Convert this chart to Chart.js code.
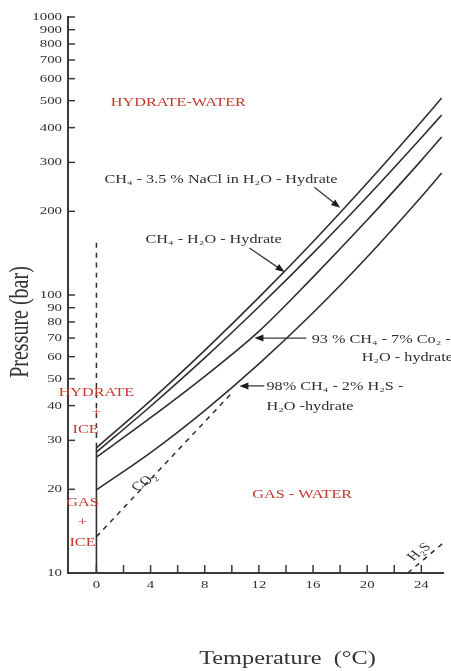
<!DOCTYPE html>
<html>
<head>
<meta charset="utf-8">
<script src="https://cdn.jsdelivr.net/npm/chart.js@4.4.1/dist/chart.umd.min.js"></script>
<style>
  html, body { margin: 0; padding: 0; background: #fff; }
  #wrap { width: 451px; height: 671px; }
</style>
</head>
<body>
<div id="wrap"><canvas id="chart" width="451" height="671"></canvas></div>
<script>
// --- Data ---
const temps = [0, 4, 8, 12, 16, 20, 24, 25.5];
const naclHydrate = [28.2, 41.7, 63.2, 98.0, 155.5, 252.9, 420.2, 511];
const ch4Hydrate = [27.2, 39.8, 59.4, 90.7, 141.4, 225.6, 367.8, 444];
const co2MixHydrate = [26.1, 36.2, 51.0, 74.0, 116, 186, 305, 370];
const h2sMixHydrate = [19.9, 27.1, 38.4, 56.5, 86.3, 137, 225.7, 274.8];

const co2Temps = [0, 5, 10];
const co2Line = [13.5, 24.5, 44.4];
const h2sTemps = [23.0, 25.6];
const h2sLine = [10, 12.8];

const iceTemps = [0, 0];
const iceSolid = [10, 28.2];
const iceDashed = [28.2, 160];

const xTicks = [0, 2, 4, 6, 8, 10, 12, 14, 16, 18, 20, 22, 24];
const xLabels = [0, 4, 8, 12, 16, 20, 24];
const yTicks = [10, 20, 30, 40, 50, 60, 70, 80, 90, 100, 200, 300, 400, 500, 600, 700, 800, 900, 1000];

// --- Style ---
const ink = '#2e2e2e';
const red = '#c0392b';
const SX = 1.35; // the original figure is stretched sideways
const serif = '"Liberation Serif", "DejaVu Serif", serif';

const pts = (xs, ys) => xs.map((t, i) => ({ x: t, y: ys[i] }));
const solid = (data) => ({ data, borderColor: ink, borderWidth: 1.6, pointRadius: 0, fill: false, cubicInterpolationMode: 'monotone' });
const dashed = (data) => ({ ...solid(data), borderDash: [5, 5], borderWidth: 1.5 });

// annotation text, placed in data coords
const notes = [
  { text: 'HYDRATE-WATER', t: 6.05, p: 490, color: red, align: 'center' },
  { text: 'CH\u2084 - 3.5 % NaCl in H\u2082O - Hydrate', t: 0.59, p: 259 },
  { text: 'CH\u2084 - H\u2082O - Hydrate', t: 3.62, p: 158 },
  { text: '93 % CH\u2084 - 7% Co\u2082 -', t: 15.9, p: 68.9 },
  { text: 'H\u2082O - hydrate', t: 19.6, p: 59.3 },
  { text: '98% CH\u2084 - 2% H\u2082S -', t: 12.56, p: 46.7 },
  { text: 'H\u2082O -hydrate', t: 12.56, p: 39.5 },
  { text: 'HYDRATE', t: 0, p: 44.4, color: red, align: 'center' },
  { text: '+', t: 0, p: 37.6, color: red, align: 'center' },
  { text: 'ICE', t: -0.8, p: 32.7, color: red, align: 'center' },
  { text: 'GAS', t: -1.03, p: 17.9, color: red, align: 'center' },
  { text: '+', t: -1.03, p: 15.1, color: red, align: 'center' },
  { text: 'ICE', t: -1.03, p: 12.8, color: red, align: 'center' },
  { text: 'GAS - WATER', t: 15.2, p: 19.1, color: red, align: 'center' },
  { text: 'CO\u2082', t: 3.55, p: 21.2, align: 'center', rotate: -0.75 },
  { text: 'H\u2082S', t: 23.85, p: 11.9, align: 'center', rotate: -0.8 }
];

const arrows = [
  { from: [16.1, 244], to: [18.0, 206] },
  { from: [11.3, 147.6], to: [13.9, 121] },
  { from: [15.5, 70], to: [11.67, 70] },
  { from: [12.4, 47.1], to: [10.56, 47.1] }
];

function drawText(ctx, text, x, y, o = {}) {
  ctx.save();
  ctx.translate(x, y);
  ctx.scale(SX, 1);
  if (o.rotate) ctx.rotate(o.rotate);
  ctx.font = `${o.size || 12}px ${serif}`;
  ctx.fillStyle = o.color || ink;
  ctx.textAlign = o.align || 'left';
  ctx.textBaseline = 'middle';
  ctx.fillText(text, 0, 0);
  ctx.restore();
}

const overlay = {
  id: 'overlay',
  afterDraw(chart) {
    const { ctx, chartArea: a, scales: { x, y } } = chart;
    ctx.save();
    ctx.strokeStyle = '#3a3a3a';
    ctx.lineWidth = 1.5;
    // inward tick marks
    x.ticks.forEach(t => {
      const px = x.getPixelForValue(t.value);
      ctx.beginPath(); ctx.moveTo(px, a.bottom); ctx.lineTo(px, a.bottom - 8); ctx.stroke();
      if (xLabels.includes(t.value)) drawText(ctx, String(t.value), px, a.bottom + 12, { size: 11, align: 'center' });
    });
    y.ticks.forEach(t => {
      const py = y.getPixelForValue(t.value);
      ctx.beginPath(); ctx.moveTo(a.left, py); ctx.lineTo(a.left + 7, py); ctx.stroke();
      drawText(ctx, String(t.value), a.left - 6, py, { size: 11, align: 'right' });
    });

    // arrows
    ctx.fillStyle = '#1e1e1e';
    ctx.lineWidth = 1.3;
    arrows.forEach(ar => {
      const x0 = x.getPixelForValue(ar.from[0]), y0 = y.getPixelForValue(ar.from[1]);
      const x1 = x.getPixelForValue(ar.to[0]), y1 = y.getPixelForValue(ar.to[1]);
      const ang = Math.atan2(y1 - y0, x1 - x0);
      ctx.beginPath(); ctx.moveTo(x0, y0); ctx.lineTo(x1 - 6 * Math.cos(ang), y1 - 6 * Math.sin(ang)); ctx.stroke();
      ctx.beginPath();
      ctx.moveTo(x1, y1);
      ctx.lineTo(x1 - 9 * Math.cos(ang) + 3.5 * Math.sin(ang), y1 - 9 * Math.sin(ang) - 3.5 * Math.cos(ang));
      ctx.lineTo(x1 - 9 * Math.cos(ang) - 3.5 * Math.sin(ang), y1 - 9 * Math.sin(ang) + 3.5 * Math.cos(ang));
      ctx.closePath(); ctx.fill();
    });

    notes.forEach(n => drawText(ctx, n.text, x.getPixelForValue(n.t), y.getPixelForValue(n.p), n));

    // axis titles
    drawText(ctx, 'Temperature  (\u00B0C)', (a.left + a.right) / 2 + 32, a.bottom + 86, { size: 18, align: 'center', color: '#333' });
    ctx.save();
    ctx.translate(21, (a.top + a.bottom) / 2 + 27);
    ctx.scale(SX, 1);
    ctx.rotate(-Math.PI / 2);
    ctx.font = `20px ${serif}`;
    ctx.fillStyle = '#333';
    ctx.textAlign = 'center';
    ctx.textBaseline = 'middle';
    ctx.fillText('Pressure (bar)', 0, 0);
    ctx.restore();
    ctx.restore();
  }
};

new Chart(document.getElementById('chart'), {
  type: 'line',
  data: {
    datasets: [
      solid(pts(temps, naclHydrate)),
      solid(pts(temps, ch4Hydrate)),
      solid(pts(temps, co2MixHydrate)),
      solid(pts(temps, h2sMixHydrate)),
      dashed(pts(co2Temps, co2Line)),
      dashed(pts(h2sTemps, h2sLine)),
      solid(pts(iceTemps, iceSolid)),
      dashed(pts(iceTemps, iceDashed))
    ]
  },
  options: {
    responsive: false,
    animation: false,
    devicePixelRatio: 1,
    layout: { padding: { left: 68, top: 17, right: 8, bottom: 98 } },
    plugins: { legend: { display: false }, tooltip: { enabled: false } },
    scales: {
      x: {
        type: 'linear', min: -2.1, max: 25.6,
        grid: { display: false },
        border: { display: true, color: '#3a3a3a', width: 2 },
        ticks: { display: false },
        afterBuildTicks: s => { s.ticks = xTicks.map(v => ({ value: v })); },
        afterFit: s => { s.height = 0; }
      },
      y: {
        type: 'logarithmic', min: 10, max: 1000,
        grid: { display: false },
        border: { display: true, color: '#3a3a3a', width: 2 },
        ticks: { display: false },
        afterBuildTicks: s => { s.ticks = yTicks.map(v => ({ value: v })); },
        afterFit: s => { s.width = 0; }
      }
    }
  },
  plugins: [overlay]
});
</script>
</body>
</html>
